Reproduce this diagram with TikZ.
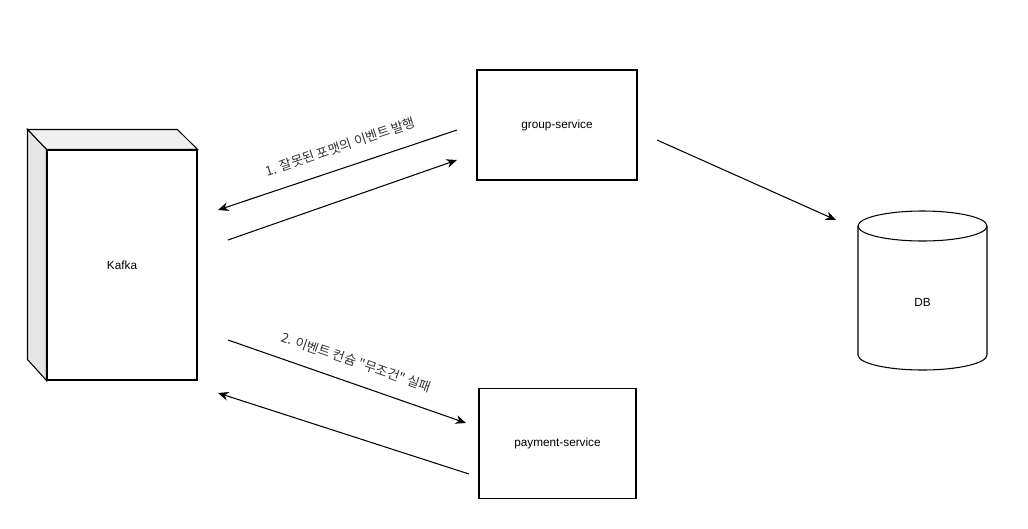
\documentclass[tikz,border=0pt]{standalone}
\usepackage{fontspec}
\setmainfont{Liberation Sans}
\newfontfamily\krfont{Noto Sans CJK KR}
\usepackage{tikz}
\usetikzlibrary{positioning,calc,arrows.meta}

\begin{document}
\begin{tikzpicture}[x=0.02cm, y=-0.02cm, font=\fontsize{6.7}{8}\selectfont,
          line width=0.6pt,
          svc/.style={draw, fill=white, minimum width=3.2cm, minimum height=2.2cm,
                      inner sep=0pt, text centered},
          flow/.style={-{Stealth[length=6pt, width=5pt]}},
          lbl/.style={font=\krfont\fontsize{7.5}{9}\selectfont, text=black!80, sloped}]
        \useasboundingbox (0,0) rectangle (1028,528);
        % kafka cube
        \node[draw, fill=white, minimum width=3cm, minimum height=4.6cm, inner sep=0pt]
          (kafka) at (122,265) {Kafka};
        \draw[fill=black!6] (kafka.north west) -- ++(-19,-20) -- ++(150,0)
          -- (kafka.north east) -- cycle;
        \draw[fill=black!10] (kafka.north west) -- ++(-19,-20) -- ++(0,230)
          -- (kafka.south west) -- cycle;
        % services
        \node[svc] (group) at (557,125) {group-service};
        \node[svc, minimum width=3.14cm] (payment) at (557.5,443.5) {payment-service};
        % db cylinder
        \draw[fill=white] (858,226) -- (858,355)
          arc[start angle=180, end angle=360, x radius=1.29cm, y radius=0.3cm]
          -- (987,226);
        \draw[fill=white] (922.5,226) ellipse[x radius=1.29cm, y radius=0.3cm];
        \node[minimum width=2.58cm, minimum height=2.6cm] (db) at (922.5,302) {DB};
        % connector ends
        \coordinate (g1) at (457,130);
        \coordinate (k1) at (218,210);
        \coordinate (k2) at (228,240);
        \coordinate (g2) at (457,160);
        \coordinate (g3) at (657,140);
        \coordinate (d1) at (836,220);
        \coordinate (k3) at (228,340);
        \coordinate (p1) at (466,423);
        \coordinate (p2) at (469,474);
        \coordinate (k4) at (218,393);
        \draw[flow] (g1) -- node[lbl, above=5pt, pos=0.46] {1. 잘못된 포맷의 이벤트 발행} (k1);
        \draw[flow] (k2) -- (g2);
        \draw[flow] (g3) -- (d1);
        \draw[flow] (k3) -- node[lbl, above=5pt, pos=0.51] {2. 이벤트 컨슘 "무조건" 실패} (p1);
        \draw[flow] (p2) -- (k4);
\end{tikzpicture}
\end{document}
